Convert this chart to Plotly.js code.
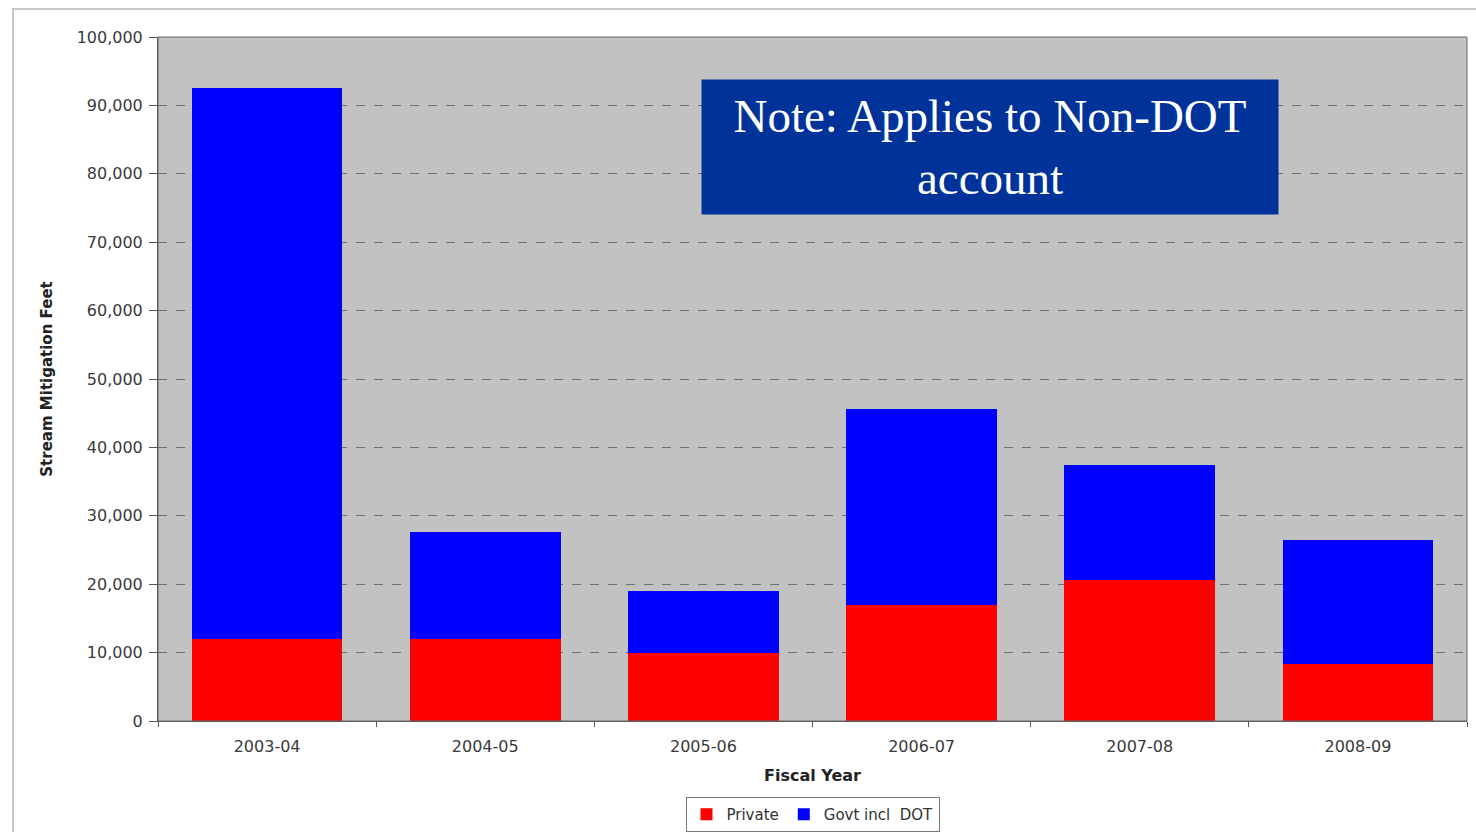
<!DOCTYPE html>
<html>
<head>
<meta charset="utf-8">
<script src="https://cdn.plot.ly/plotly-3.0.1.min.js"></script>
<style>
html,body{margin:0;padding:0;background:#fff;}
#wrap{position:relative;width:1476px;height:832px;overflow:hidden;}
#chart{position:absolute;left:0;top:0;width:1476px;height:832px;}
#frame{position:absolute;left:12px;top:8px;width:1480px;height:840px;border:2px solid #c8c8c8;pointer-events:none;}
</style>
</head>
<body>
<div id="wrap"><div id="chart"></div><div id="frame"></div></div>
<script>
const years = ["2003-04","2004-05","2005-06","2006-07","2007-08","2008-09"];
const privateVals = [12000, 12000, 9900, 17000, 20600, 8300];
const govtVals = [80500, 15600, 9100, 28600, 16800, 18200];
const yTicks = [0,10000,20000,30000,40000,50000,60000,70000,80000,90000,100000];
const yTickText = ["0","10,000","20,000","30,000","40,000","50,000","60,000","70,000","80,000","90,000","100,000"];
const noteText = "Note: Applies to Non-DOT<br>account";

const tickFont = {family:"DejaVu Sans, Verdana, sans-serif", size:16, color:"#3a3a3a"};
const data = [
  {type:"bar", name:"Private", x:years, y:privateVals, marker:{color:"#ff0000"}},
  {type:"bar", name:"Govt incl  DOT", x:years, y:govtVals, marker:{color:"#0000ff"}}
];
const layout = {
  width:1476, height:832,
  margin:{l:158, r:9, t:37, b:111, autoexpand:false},
  barmode:"stack", bargap:0.31,
  paper_bgcolor:"rgba(0,0,0,0)", plot_bgcolor:"#c2c2c2",
  font:{family:"DejaVu Sans, Verdana, sans-serif", color:"#333", size:15},
  showlegend:true,
  legend:{orientation:"h", traceorder:"normal", x:0.5, xanchor:"center", yref:"container", y:-0.004, yanchor:"bottom",
    bordercolor:"#777", borderwidth:1, bgcolor:"#fff", font:{family:"DejaVu Sans, Verdana, sans-serif", size:15, color:"#333"},
    itemwidth:30, tracegroupgap:0},
  xaxis:{type:"category", tickson:"boundaries", ticks:"outside", ticklen:5, tickcolor:"#555",
    showline:true, linecolor:"#555", linewidth:1, showgrid:false, ticklabelstandoff:11,
    tickfont:tickFont,
    title:{text:"<b>Fiscal Year</b>", font:{family:"DejaVu Sans, Verdana, sans-serif", size:16, color:"#222"}, standoff:14}},
  yaxis:{range:[0,100000], tickvals:yTicks, ticktext:yTickText, ticks:"outside", ticklen:8, tickcolor:"#555",
    showline:true, linecolor:"#555", linewidth:1, mirror:false,
    showgrid:true, gridcolor:"#707070", griddash:"dash", gridwidth:1, zeroline:false,
    tickfont:tickFont, ticklabelstandoff:3,
    title:{text:"<b>Stream Mitigation Feet</b>", font:{family:"DejaVu Sans, Verdana, sans-serif", size:15, color:"#222"}, standoff:20}},
  shapes:[
    {type:"rect", xref:"paper", yref:"paper", x0:0, x1:1, y0:0, y1:1, line:{color:"#666", width:1}, fillcolor:"rgba(0,0,0,0)", layer:"above"}
  ],
  annotations:[
    {xref:"paper", yref:"paper", x:0.6356, y:0.839, xanchor:"center", yanchor:"middle",
     text:noteText, showarrow:false, align:"center",
     font:{family:"Liberation Serif, Times New Roman, serif", size:47, color:"#ffffff"},
     bgcolor:"#003399", width:560, height:118, borderpad:8}
  ]
};
Plotly.newPlot("chart", data, layout, {displayModeBar:false, staticPlot:true});
</script>
</body>
</html>
